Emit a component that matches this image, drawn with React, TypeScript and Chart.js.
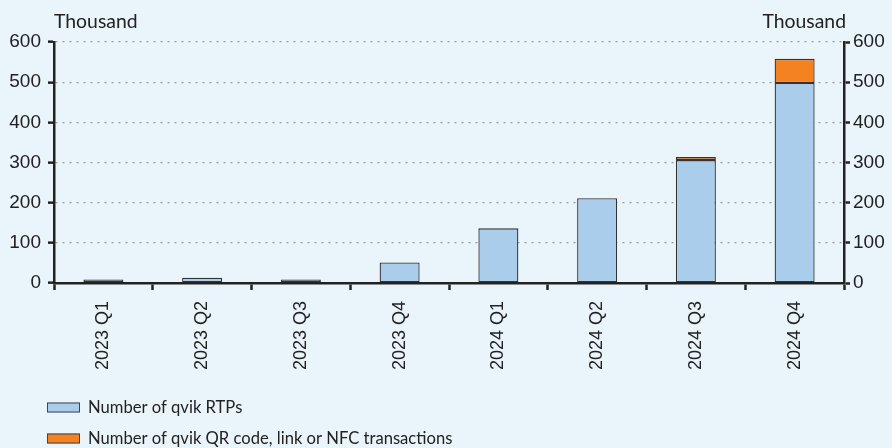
import React, { useEffect, useRef } from "react";
import { Chart, registerables } from "chart.js";

Chart.register(...registerables);

const categories = ["2023 Q1", "2023 Q2", "2023 Q3", "2023 Q4", "2024 Q1", "2024 Q2", "2024 Q3", "2024 Q4"];
const rtpValues = [9, 13, 9, 51, 136, 211, 306, 498];
const qrValues = [null, null, null, null, null, null, 8, 60];
const seriesNames = ["Number of qvik RTPs", "Number of qvik QR code, link or NFC transactions"];
const yTicks = [0, 100, 200, 300, 400, 500, 600];
const unitLabel = "Thousand";

const BG = "#EAF4FB";
const BLUE = "#ABCDEC";
const ORANGE = "#F58220";
const DARK = "#222222";
const TEXT_FONT = "Lato, sans-serif";
const TICK_FONT = "'Liberation Sans', Arial, sans-serif";

const extrasPlugin = {
  id: "extras",
  afterDraw(chart: any) {
    const ctx = chart.ctx;
    const area = chart.chartArea;
    ctx.save();
    ctx.fillStyle = DARK;
    ctx.font = `19.4px ${TEXT_FONT}`;
    ctx.textBaseline = "alphabetic";
    ctx.textAlign = "left";
    ctx.fillText(unitLabel, area.left, 28);
    ctx.textAlign = "right";
    ctx.fillText(unitLabel, area.right + 2, 28);
    // legend
    const rows = [407.5, 438.5];
    chart.data.datasets.forEach((ds: any, i: number) => {
      const y = rows[i];
      ctx.fillStyle = ds.backgroundColor;
      ctx.fillRect(47, y - 5, 33, 10);
      ctx.strokeStyle = "#444";
      ctx.lineWidth = 1;
      ctx.strokeRect(47.5, y - 4.5, 32, 9);
      ctx.fillStyle = DARK;
      ctx.textAlign = "left";
      ctx.textBaseline = "middle";
      ctx.font = `16.6px ${TEXT_FONT}`;
      ctx.fillText(ds.label, 88, y);
    });
    ctx.restore();
  },
};

export default function App() {
  const ref = useRef<HTMLCanvasElement>(null);
  useEffect(() => {
    if (!ref.current) return;
    const yAxisCommon = {
      stacked: true,
      min: 0,
      max: 600,
      afterBuildTicks: (s: any) => {
        s.ticks = yTicks.map((v) => ({ value: v }));
      },
      ticks: {
        color: DARK,
        font: { size: 19, family: TICK_FONT },
        padding: 7,
      },
      border: { display: true, color: DARK, width: 2.5 },
    };
    const chart = new Chart(ref.current, {
      type: "bar",
      data: {
        labels: categories,
        datasets: [
          {
            label: seriesNames[0],
            data: rtpValues,
            backgroundColor: BLUE,
            borderColor: "#333",
            borderWidth: 1.3,
            barPercentage: 0.81,
            categoryPercentage: 0.5,
            borderSkipped: false,
          },
          {
            label: seriesNames[1],
            data: qrValues as any,
            backgroundColor: ORANGE,
            borderColor: "#333",
            borderWidth: 1.3,
            barPercentage: 0.81,
            categoryPercentage: 0.5,
            borderSkipped: false,
          },
        ],
      },
      options: {
        animation: false,
        responsive: false,
        maintainAspectRatio: false,
        layout: { padding: { top: 42, left: 0, right: 0, bottom: 0 } },
        plugins: {
          legend: { display: false },
          tooltip: { enabled: false },
        },
        scales: {
          x: {
            stacked: true,
            afterFit: (s: any) => {
              s.height = 165;
            },
            grid: {
              offset: true,
              drawOnChartArea: false,
              drawTicks: true,
              tickLength: 7,
              tickColor: DARK,
              tickWidth: 2.5,
            },
            border: { display: true, color: DARK, width: 2.5 },
            ticks: {
              color: DARK,
              font: { size: 18, family: TICK_FONT },
              maxRotation: 90,
              minRotation: 90,
              padding: 11,
              autoSkip: false,
            },
          },
          y: {
            ...yAxisCommon,
            position: "left",
            afterFit: (s: any) => {
              s.width = 54;
            },
            grid: {
              drawOnChartArea: true,
              drawTicks: true,
              tickLength: 6,
              color: "#9a9a9a",
              lineWidth: 1.3,
              tickColor: DARK,
              tickWidth: 2.5,
              tickBorderDash: [],
            },
            border: { display: true, color: DARK, width: 2.5, dash: [2, 5] },
          },
          y2: {
            ...yAxisCommon,
            position: "right",
            afterFit: (s: any) => {
              s.width = 48;
            },
            ticks: {
              color: DARK,
              font: { size: 19, family: TICK_FONT },
              padding: 3,
            },
            grid: {
              drawOnChartArea: false,
              drawTicks: true,
              tickLength: 6,
              tickColor: DARK,
              tickWidth: 2.5,
            },
          },
        },
      } as any,
      plugins: [extrasPlugin],
    });
    return () => chart.destroy();
  }, []);
  return (
    <div style={{ position: "fixed", left: 0, top: 0, width: 892, height: 448, background: BG }}>
      <canvas ref={ref} width={892} height={448} style={{ display: "block" }} />
    </div>
  );
}
